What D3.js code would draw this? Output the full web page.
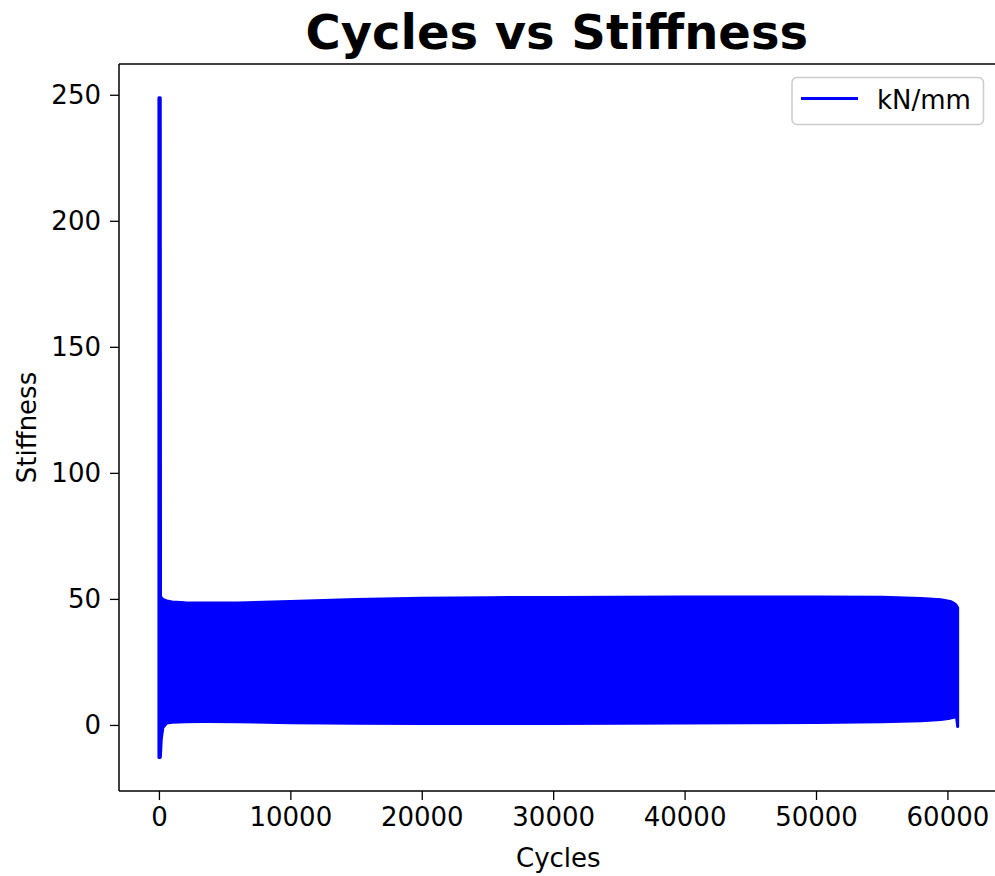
<!DOCTYPE html>
<html>
<head>
<meta charset="utf-8">
<script src="https://cdn.jsdelivr.net/npm/d3@7"></script>
<style>
  html, body { margin: 0; padding: 0; background: #fff; }
  svg { display: block; font-family: "DejaVu Sans", sans-serif; }
</style>
</head>
<body>
<svg id="chart" width="995" height="876"></svg>
<script>
// Envelope of the stiffness signal (kN/mm) per load cycle: the trace oscillates
// between the lower and upper bound every cycle, so it is drawn as a filled band.
const cycles = [0, 100, 120, 180, 300, 600, 1000, 2000, 3500, 6000, 10000, 15000, 20000,
  25000, 30000, 35000, 40000, 45000, 50000, 55000, 58000, 59500, 60200, 60500, 60650, 60700, 60780];
const upperStiffness = [248.8, 248.8, 51.2, 50.4, 49.8, 49.2, 48.8, 48.5, 48.4, 48.4, 49.0, 49.8, 50.3,
  50.5, 50.6, 50.7, 50.8, 50.8, 50.8, 50.7, 50.2, 49.7, 49.0, 48.2, 47.6, 47.2, 46.4];
const lowerStiffness = [-12.9, -12.9, -11.5, -5.5, -1.0, 0.8, 1.1, 1.3, 1.4, 1.3, 0.9, 0.7, 0.6,
  0.6, 0.6, 0.7, 0.8, 0.9, 1.0, 1.3, 1.7, 2.2, 2.7, 3.0, 3.3, 3.0, -0.6];

const xTicks = [0, 10000, 20000, 30000, 40000, 50000, 60000];
const yTicks = [0, 50, 100, 150, 200, 250];
const seriesName = "kN/mm";

const band = cycles.map((c, i) => ({ c, hi: upperStiffness[i], lo: lowerStiffness[i] }));

const svg = d3.select("#chart");
const plotLeft = 119, plotRight = 997.6, plotTop = 64, plotBottom = 791;
const blue = "#0000ff";
const baseFont = 26;

// 5% padding around the data, as in the usual autoscaling
const xMin = d3.min(cycles), xMax = d3.max(cycles), xPad = 0.05 * (xMax - xMin);
const x = d3.scaleLinear().domain([xMin - xPad, xMax + xPad]).range([plotLeft, plotRight]);
const y = d3.scaleLinear().domain([-26.2, 262.2]).range([plotBottom, plotTop]);

const plot = svg.append("g");
plot.append("clipPath").attr("id", "clip")
  .append("rect").attr("x", plotLeft).attr("y", plotTop)
  .attr("width", plotRight - plotLeft).attr("height", plotBottom - plotTop);

const area = d3.area().x(d => x(d.c)).y0(d => y(d.lo)).y1(d => y(d.hi));
plot.append("path")
  .datum(band)
  .attr("clip-path", "url(#clip)")
  .attr("d", area)
  .attr("fill", blue)
  .attr("stroke", blue)
  .attr("stroke-width", 3)
  .attr("stroke-linejoin", "round");

// Axes
const xAxis = d3.axisBottom(x).tickValues(xTicks).tickFormat(d3.format("d")).tickSizeOuter(0).tickSize(9).tickPadding(8);
const yAxis = d3.axisLeft(y).tickValues(yTicks).tickFormat(d3.format("d")).tickSizeOuter(0).tickSize(9).tickPadding(9);

const gx = svg.append("g").attr("transform", `translate(0,${plotBottom})`).call(xAxis);
const gy = svg.append("g").attr("transform", `translate(${plotLeft},0)`).call(yAxis);
[gx, gy].forEach(g => {
  g.select(".domain").remove();
  g.selectAll(".tick line").attr("stroke", "#000").attr("stroke-width", 1.3);
  g.selectAll(".tick text").attr("fill", "#000").style("font-size", baseFont + "px")
    .style("font-family", "'DejaVu Sans', sans-serif");
});

// Spines (right spine lies just past the visible edge)
const spine = svg.append("g").attr("fill", "none").attr("stroke", "#000").attr("stroke-width", 1.5);
spine.append("line").attr("x1", plotLeft).attr("x2", plotLeft).attr("y1", plotTop).attr("y2", plotBottom);
spine.append("line").attr("x1", plotLeft).attr("x2", plotRight).attr("y1", plotBottom).attr("y2", plotBottom);
spine.append("line").attr("x1", plotLeft).attr("x2", plotRight).attr("y1", plotTop).attr("y2", plotTop);
spine.append("line").attr("x1", plotRight).attr("x2", plotRight).attr("y1", plotTop).attr("y2", plotBottom);

// Titles
svg.append("text").attr("x", (plotLeft + plotRight) / 2 - 1.5).attr("y", 49)
  .attr("text-anchor", "middle").style("font-size", "48px").style("font-weight", "bold")
  .text("Cycles vs Stiffness");
svg.append("text").attr("x", (plotLeft + plotRight) / 2).attr("y", 867)
  .attr("text-anchor", "middle").style("font-size", baseFont + "px").text("Cycles");
svg.append("text").attr("transform", `translate(36,${(plotTop + plotBottom) / 2}) rotate(-90)`)
  .attr("text-anchor", "middle").style("font-size", baseFont + "px").text("Stiffness");

// Legend
const lg = svg.append("g");
lg.append("rect").attr("x", 792).attr("y", 77.5).attr("width", 191.5).attr("height", 47)
  .attr("rx", 5).attr("fill", "#fff").attr("fill-opacity", 0.8).attr("stroke", "#cccccc").attr("stroke-width", 1.5);
lg.append("line").attr("x1", 801).attr("x2", 858).attr("y1", 98.5).attr("y2", 98.5)
  .attr("stroke", blue).attr("stroke-width", 3.2);
lg.append("text").attr("x", 877).attr("y", 109).style("font-size", baseFont + "px").text(seriesName);
</script>
</body>
</html>
